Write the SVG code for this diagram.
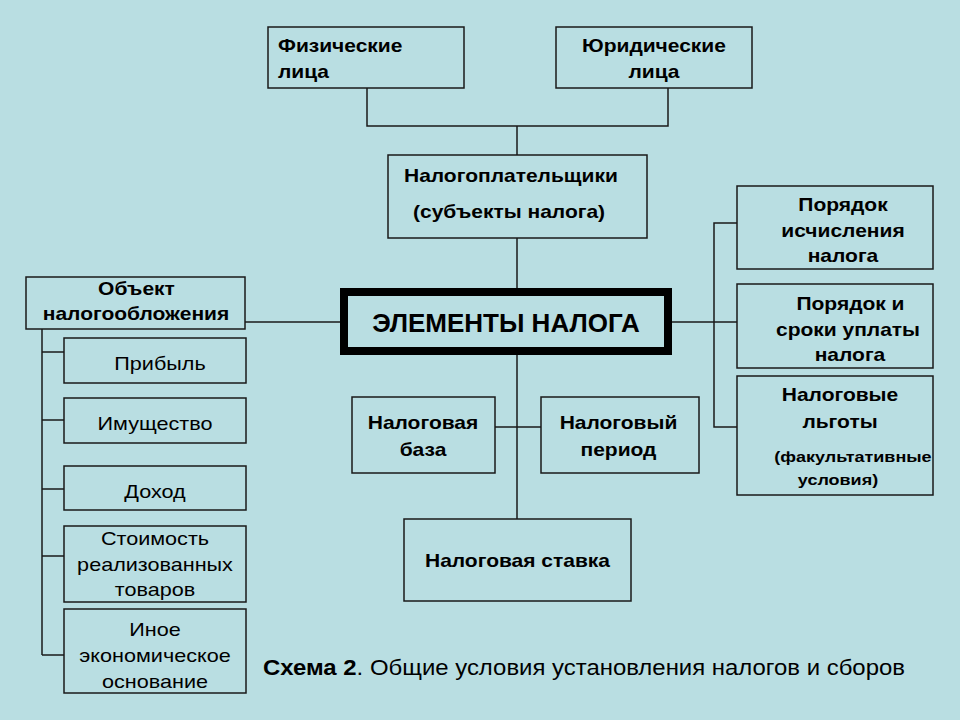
<svg xmlns="http://www.w3.org/2000/svg" width="960" height="720" viewBox="0 0 960 720">
<style>
.bg{fill:#B9DEE2}
.box{fill:#B9DEE2;stroke:#1a1a1a;stroke-width:1.5}
.main{fill:#B9DEE2;stroke:#000;stroke-width:8}
.ln{stroke:#1a1a1a;stroke-width:1.5;fill:none}
text{font-family:"Liberation Sans",Arial,sans-serif;fill:#000}
.b{font-weight:bold;font-size:17.5px}
.r{font-size:18px}
.s{font-weight:bold;font-size:15px}
.m{text-anchor:middle}
</style>
<rect class="bg" x="0" y="0" width="960" height="720"/>
<g id="connectors">
<polyline class="ln" points="367,88 367,126 668,126 668,88"/>
<line class="ln" x1="517" y1="126" x2="517" y2="155"/>
<line class="ln" x1="517" y1="238" x2="517" y2="288"/>
<line class="ln" x1="517" y1="355" x2="517" y2="519"/>
<line class="ln" x1="495" y1="427" x2="541" y2="427"/>
<line class="ln" x1="245" y1="322" x2="340" y2="322"/>
<line class="ln" x1="672" y1="322" x2="737" y2="322"/>
<polyline class="ln" points="737,223 714,223 714,427 737,427"/>
<line class="ln" x1="42" y1="329" x2="42" y2="655"/>
<line class="ln" x1="42" y1="352" x2="64" y2="352"/>
<line class="ln" x1="42" y1="420" x2="64" y2="420"/>
<line class="ln" x1="42" y1="489" x2="64" y2="489"/>
<line class="ln" x1="42" y1="556" x2="64" y2="556"/>
<line class="ln" x1="42" y1="655" x2="64" y2="655"/>
</g>
<g id="fiz">
<rect class="box" x="268" y="27" width="196" height="61"/>
<g transform="scale(1.2 1)">
<text class="b" x="231.67" y="52">Физические</text>
<text class="b" x="231.67" y="78">лица</text>
</g>
</g>
<g id="yur">
<rect class="box" x="556" y="27" width="196" height="61"/>
<g transform="scale(1.2 1)">
<text class="b m" x="545" y="52">Юридические</text>
<text class="b m" x="545" y="78">лица</text>
</g>
</g>
<g id="payers">
<rect class="box" x="388" y="155" width="259" height="83"/>
<g transform="scale(1.2 1)">
<text class="b" x="336.67" y="182">Налогоплательщики</text>
<text class="b" x="344.17" y="218">(субъекты налога)</text>
</g>
</g>
<g id="elements">
<rect class="main" x="344" y="292" width="324" height="59"/>
<text class="m" x="506" y="332" style="font-weight:bold;font-size:26px">ЭЛЕМЕНТЫ НАЛОГА</text>
</g>
<g id="object">
<rect class="box" x="26" y="277" width="219" height="52"/>
<g transform="scale(1.2 1)">
<text class="b m" x="113.75" y="295">Объект</text>
<text class="b m" x="113.33" y="320">налогообложения</text>
</g>
</g>
<g id="profit">
<rect class="box" x="64" y="338" width="182" height="45"/>
<text class="r m" x="133.33" y="370" transform="scale(1.2 1)">Прибыль</text>
</g>
<g id="property">
<rect class="box" x="64" y="398" width="182" height="45"/>
<text class="r m" x="129.17" y="430" transform="scale(1.2 1)">Имущество</text>
</g>
<g id="income">
<rect class="box" x="64" y="466" width="182" height="44"/>
<text class="r m" x="129.17" y="498" transform="scale(1.2 1)">Доход</text>
</g>
<g id="cost">
<rect class="box" x="64" y="526" width="182" height="76"/>
<g transform="scale(1.2 1)">
<text class="r m" x="129.17" y="545">Стоимость</text>
<text class="r m" x="129.17" y="571">реализованных</text>
<text class="r m" x="129.17" y="596">товаров</text>
</g>
</g>
<g id="other">
<rect class="box" x="64" y="609" width="182" height="84"/>
<g transform="scale(1.2 1)">
<text class="r m" x="129.17" y="636">Иное</text>
<text class="r m" x="129.17" y="662">экономическое</text>
<text class="r m" x="129.17" y="688">основание</text>
</g>
</g>
<g id="base">
<rect class="box" x="352" y="397" width="143" height="76"/>
<g transform="scale(1.2 1)">
<text class="b m" x="352.5" y="429">Налоговая</text>
<text class="b m" x="352.5" y="456">база</text>
</g>
</g>
<g id="period">
<rect class="box" x="541" y="397" width="158" height="76"/>
<g transform="scale(1.2 1)">
<text class="b m" x="515.42" y="429">Налоговый</text>
<text class="b m" x="515.42" y="456">период</text>
</g>
</g>
<g id="rate">
<rect class="box" x="404" y="519" width="227" height="82"/>
<text class="b m" x="431.25" y="567" transform="scale(1.2 1)">Налоговая ставка</text>
</g>
<g id="calc">
<rect class="box" x="737" y="186" width="196" height="83"/>
<g transform="scale(1.2 1)">
<text class="b m" x="702.5" y="211">Порядок</text>
<text class="b m" x="702.5" y="237">исчисления</text>
<text class="b m" x="702.5" y="262">налога</text>
</g>
</g>
<g id="payment">
<rect class="box" x="737" y="284" width="196" height="84"/>
<g transform="scale(1.2 1)">
<text class="b m" x="708.75" y="310">Порядок и</text>
<text class="b m" x="706.67" y="336">сроки уплаты</text>
<text class="b m" x="708.33" y="361">налога</text>
</g>
</g>
<g id="benefits">
<rect class="box" x="737" y="376" width="196" height="119"/>
<g transform="scale(1.2 1)">
<text class="b m" x="700" y="401">Налоговые</text>
<text class="b m" x="700" y="428">льготы</text>
<text class="s m" x="710.83" y="462">(факультативные</text>
<text class="s m" x="698.33" y="485">условия)</text>
</g>
</g>
<text x="263" y="675" style="font-size:22px" textLength="642" lengthAdjust="spacingAndGlyphs"><tspan font-weight="bold">Схема 2</tspan>. Общие условия установления налогов и сборов</text>
</svg>
